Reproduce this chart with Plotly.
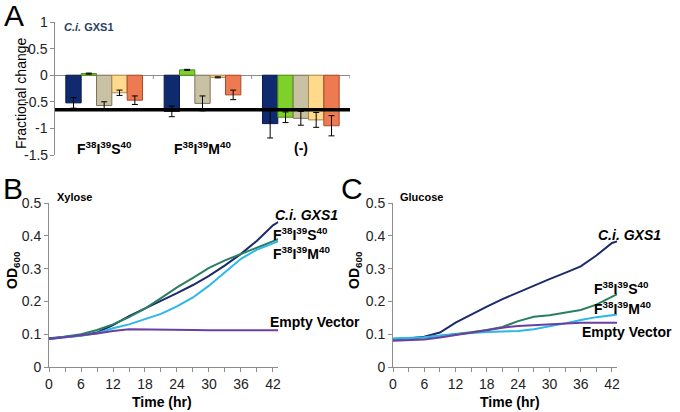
import plotly.graph_objects as go

# ---- panel A data (fractional change) ----
groups = ["F38I39S40", "F38I39M40", "(-)"]
group_labels = ["<b>F<sup>38</sup>I<sup>39</sup>S<sup>40</sup></b>",
                "<b>F<sup>38</sup>I<sup>39</sup>M<sup>40</sup></b>",
                "<b>(-)</b>"]
cond_names = ["Condition 1", "Condition 2", "Condition 3", "Condition 4", "Condition 5"]
cond_values = [
    [-0.52, -0.68, -0.91],
    [0.03, 0.10, -0.79],
    [-0.57, -0.53, -0.81],
    [-0.33, -0.04, -0.84],
    [-0.47, -0.37, -0.95],
]
cond_errors = [
    [0.10, 0.10, 0.27],
    [0.01, 0.01, 0.10],
    [0.07, 0.14, 0.13],
    [0.05, 0.01, 0.14],
    [0.08, 0.09, 0.19],
]
threshold = -0.65
a_range = [-1.5, 1]
a_ticks = [-1.5, -1, -0.5, 0, 0.5, 1]
a_tick_text = ["-1.5", "-1", "-0.5", "0", "0.5", "1"]

# ---- panels B/C data (OD600 over time) ----
hours = [0, 3, 6, 9, 12, 15, 18, 21, 24, 27, 30, 33, 36, 39, 42, 43]
xyl_ci = [0.088, 0.092, 0.096, 0.105, 0.128, 0.155, 0.178, 0.200, 0.225, 0.250, 0.278, 0.310, 0.345, 0.385, 0.432, 0.442]
xyl_fis = [0.085, 0.092, 0.100, 0.113, 0.130, 0.152, 0.178, 0.210, 0.243, 0.272, 0.302, 0.325, 0.345, 0.365, 0.385, 0.390]
xyl_fim = [0.085, 0.090, 0.095, 0.103, 0.118, 0.130, 0.145, 0.162, 0.185, 0.212, 0.248, 0.288, 0.330, 0.358, 0.377, 0.383]
xyl_ev = [0.085, 0.092, 0.097, 0.102, 0.110, 0.115, 0.115, 0.114, 0.114, 0.113, 0.112, 0.112, 0.112, 0.112, 0.112, 0.112]

glu_ci = [0.085, 0.087, 0.092, 0.105, 0.135, 0.160, 0.184, 0.207, 0.228, 0.248, 0.268, 0.287, 0.307, 0.340, 0.378, 0.383]
glu_fis = [0.085, 0.087, 0.090, 0.095, 0.100, 0.106, 0.113, 0.122, 0.140, 0.153, 0.158, 0.165, 0.174, 0.190, 0.215, 0.222]
glu_fim = [0.087, 0.088, 0.091, 0.095, 0.100, 0.104, 0.107, 0.109, 0.110, 0.115, 0.123, 0.133, 0.143, 0.152, 0.158, 0.160]
glu_ev = [0.080, 0.081, 0.084, 0.090, 0.098, 0.106, 0.113, 0.120, 0.125, 0.128, 0.130, 0.133, 0.135, 0.135, 0.135, 0.135]

W, H = 680, 412
FONT = "Liberation Sans, Arial, sans-serif"
AXIS_GREY = "#8c8c8c"

bar_colors = ["#0f2a6e", "#7fd12a", "#c8c1a3", "#ffd98c", "#ee7a52"]
bar_lines = ["#0a1c4a", "#4f8a12", "#7d7458", "#a8874a", "#a84a2a"]
line_colors = {"ci": "#1b2a6b", "fis": "#2a7f62", "fim": "#2cb6ea", "ev": "#6b3fa0"}


def px(x, y):
    return x / W, 1 - y / H


fig = go.Figure()

for i in range(5):
    fig.add_trace(go.Bar(
        x=list(range(len(groups))), y=cond_values[i], name=cond_names[i],
        marker=dict(color=bar_colors[i], line=dict(color=bar_lines[i], width=1)),
        error_y=dict(type="data", array=cond_errors[i], color="black", thickness=1, width=3),
        xaxis="x", yaxis="y", showlegend=False,
    ))

for ax, data in (("2", (xyl_ci, xyl_fis, xyl_fim, xyl_ev)), ("3", (glu_ci, glu_fis, glu_fim, glu_ev))):
    for key, vals in zip(("ci", "fis", "fim", "ev"), data):
        fig.add_trace(go.Scatter(
            x=hours, y=vals, mode="lines", line=dict(color=line_colors[key], width=2),
            xaxis="x" + ax, yaxis="y" + ax, showlegend=False,
        ))

axis_common = dict(showgrid=False, zeroline=False, showline=True, linecolor=AXIS_GREY, linewidth=1,
                   ticks="outside", tickcolor=AXIS_GREY, ticklen=4, automargin=False,
                   ticklabeloverflow="allow",
                   tickfont=dict(family=FONT, size=14, color="#222"))

# panel A axes: x axis hidden, zero line drawn by the y axis
AX0 = 55
ya_top, ya_bot = 1 - 22 / H, 1 - 155 / H
fig.update_layout(
    xaxis=dict(domain=[AX0 / W, 350 / W], range=[-0.5, 2.5], anchor="y", visible=False),
    yaxis=dict(domain=[ya_bot, ya_top], range=a_range, tickvals=a_ticks, showticklabels=False,
               anchor="x",
               **{**axis_common, "zeroline": True, "zerolinecolor": AXIS_GREY, "zerolinewidth": 1}),
    bargap=0.22, bargroupgap=0, barmode="group",
)
# small category-boundary ticks hanging under the zero line
for b in (0.5, 1.5, 2.5):
    fig.add_shape(type="line", xref="x", yref="y", x0=b, x1=b, y0=0, y1=-0.07,
                  line=dict(color=AXIS_GREY, width=1))

yb_top, yb_bot = 1 - 203 / H, 1 - 367 / H
xt = dict(range=[0, 43], tickvals=[0, 6, 12, 18, 24, 30, 36, 42],
          minor=dict(dtick=3, tick0=0, ticks="outside", ticklen=4, tickcolor=AXIS_GREY))
yt = dict(range=[0, 0.5], tickvals=[0, 0.1, 0.2, 0.3, 0.4, 0.5],
          ticktext=["0", "0.1", "0.2", "0.3", "0.4", "0.5"])
fig.update_layout(
    xaxis2=dict(domain=[49 / W, (49 + 43 * 5.333) / W], anchor="y2", **xt, **axis_common),
    yaxis2=dict(domain=[yb_bot, yb_top], anchor="x2", **yt, **axis_common),
    xaxis3=dict(domain=[393 / W, (393 + 43 * 5.214) / W], anchor="y3", **xt, **axis_common),
    yaxis3=dict(domain=[yb_bot, yb_top], anchor="x3", **yt, **axis_common),
)

fig.add_shape(type="line", xref="paper", yref="y", x0=AX0 / W, x1=350 / W, y0=threshold, y1=threshold,
              line=dict(color="black", width=3.5))

ann = []


def text(x, y, s, size=14, bold=True, xanchor="center", angle=0, italic=False, color="black"):
    xp, yp = px(x, y)
    s = f"<i>{s}</i>" if italic else s
    s = f"<b>{s}</b>" if bold else s
    ann.append(dict(x=xp, y=yp, xref="paper", yref="paper", text=s, showarrow=False,
                    xanchor=xanchor, yanchor="middle", textangle=angle,
                    font=dict(family=FONT, size=size, color=color)))


# panel A tick labels, mapped onto the axis domain in paper units
for v, t in zip(a_ticks, a_tick_text):
    frac = (v - a_range[0]) / (a_range[1] - a_range[0])
    ann.append(dict(x=(AX0 - 5) / W, y=ya_bot + frac * (ya_top - ya_bot), xref="paper", yref="paper",
                    text=t, showarrow=False, xanchor="right", yanchor="middle",
                    font=dict(family=FONT, size=14, color="#222")))

# panel letters
text(14, 16, "A", size=30, bold=False)
text(13, 188, "B", size=30, bold=False)
text(352, 188, "C", size=30, bold=False)

# panel A texts
text(21, 93, "Fractional change", size=14, bold=False, angle=-90)
ann.append(dict(x=62 / W, y=1 - 27 / H, xref="paper", yref="paper", showarrow=False, xanchor="left",
                yanchor="middle", text="<b><i>C.i.</i> GXS1</b>", font=dict(family=FONT, size=11)))
for i, lab in enumerate(group_labels):
    ann.append(dict(x=i, y=-1.36, xref="x", yref="y", text=lab, showarrow=False,
                    font=dict(family=FONT, size=14, color="black")))

# panel B texts
text(13, 270, "OD<sub>600</sub>", angle=-90)
text(162, 402, "Time (hr)")
text(55, 197, "Xylose", size=11, xanchor="left")
text(340, 215, "C.i. GXS1", italic=True, xanchor="right")
text(271, 234, "F<sup>38</sup>I<sup>39</sup>S<sup>40</sup>", xanchor="left")
text(271, 253, "F<sup>38</sup>I<sup>39</sup>M<sup>40</sup>", xanchor="left")
text(268, 322, "Empty Vector", xanchor="left")

# panel C texts
text(355, 270, "OD<sub>600</sub>", angle=-90)
text(510, 402, "Time (hr)")
text(398, 197, "Glucose", size=11, xanchor="left")
text(663, 235, "C.i. GXS1", italic=True, xanchor="right")
text(592, 288, "F<sup>38</sup>I<sup>39</sup>S<sup>40</sup>", xanchor="left")
text(592, 308, "F<sup>38</sup>I<sup>39</sup>M<sup>40</sup>", xanchor="left")
text(580, 332, "Empty Vector", xanchor="left")

fig.update_layout(width=W, height=H, autosize=False, margin=dict(l=0, r=0, t=0, b=0),
                  paper_bgcolor="white", plot_bgcolor="white", annotations=ann,
                  font=dict(family=FONT))

# page body has a default 8px margin; drop it so the figure sits at the window origin
fig.write_html("out.html", config={"displayModeBar": False},
               post_script="document.body.style.margin='0';document.body.style.overflow='hidden';")
